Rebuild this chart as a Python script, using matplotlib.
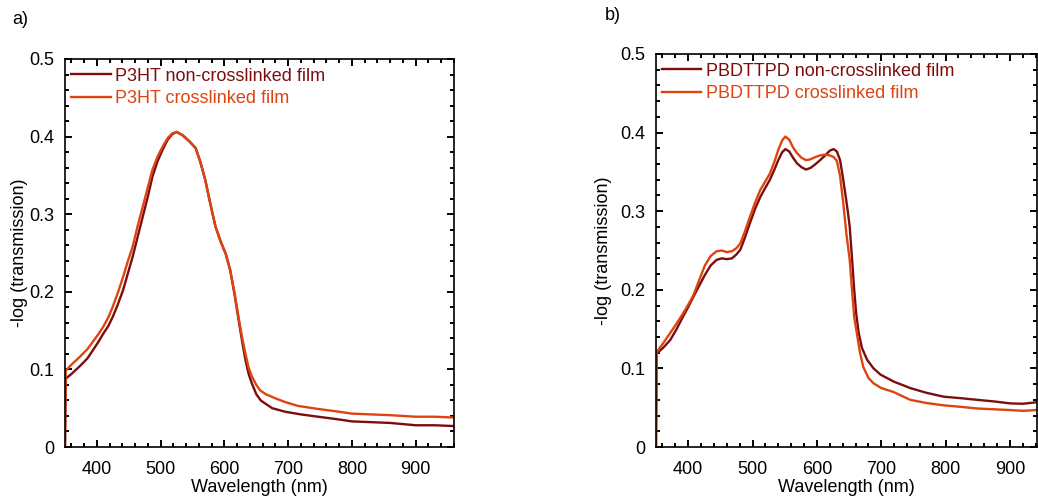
"""
Absorbance (-log transmission) of crosslinked vs non-crosslinked films:
a) P3HT, b) PBDTTPD.  Values read off the reference figure.
"""
import matplotlib
matplotlib.use("Agg")
import matplotlib.pyplot as plt
from matplotlib.ticker import MultipleLocator

plt.rcParams["font.family"] = ["Liberation Sans", "DejaVu Sans"]
plt.rcParams["font.size"] = 13

DARK = "#7d0d0d"
ORANGE = "#de4410"

# ---- a) P3HT ----
p3ht_nx_wl = [350, 351, 360, 373, 385, 394, 402, 410, 418, 425, 433, 441, 448, 456,
              464, 472, 480, 487, 495, 503, 511, 518, 525, 534, 545, 555, 562, 570,
              578, 586, 594, 602, 609, 616, 622, 628, 633, 638, 643, 650, 657, 664,
              675, 695, 720, 747, 775, 800, 830, 860, 900, 930, 960]
p3ht_nx_val = [0.0, 0.088, 0.094, 0.104, 0.114, 0.125, 0.135, 0.146, 0.156, 0.168,
               0.184, 0.202, 0.222, 0.245, 0.271, 0.297, 0.323, 0.348, 0.368, 0.383,
               0.396, 0.403, 0.406, 0.402, 0.394, 0.385, 0.368, 0.344, 0.313, 0.284,
               0.265, 0.249, 0.228, 0.196, 0.165, 0.135, 0.112, 0.094, 0.082, 0.068,
               0.060, 0.056, 0.050, 0.0455, 0.042, 0.039, 0.036, 0.033, 0.032, 0.031,
               0.028, 0.028, 0.027]

p3ht_x_wl = [350, 351, 360, 373, 385, 394, 402, 410, 418, 425, 433, 441, 448, 456,
             464, 472, 480, 487, 495, 503, 511, 518, 525, 534, 545, 555, 562, 570,
             578, 586, 594, 602, 609, 616, 622, 628, 633, 638, 643, 650, 656, 665,
             679, 695, 715, 747, 775, 800, 830, 860, 900, 930, 960]
p3ht_x_val = [0.0, 0.098, 0.106, 0.116, 0.126, 0.136, 0.145, 0.155, 0.167, 0.181,
              0.199, 0.219, 0.238, 0.258, 0.285, 0.310, 0.335, 0.357, 0.374, 0.387,
              0.398, 0.404, 0.406, 0.402, 0.394, 0.385, 0.368, 0.344, 0.313, 0.284,
              0.265, 0.249, 0.228, 0.198, 0.168, 0.140, 0.120, 0.102, 0.091, 0.080,
              0.073, 0.068, 0.063, 0.058, 0.053, 0.049, 0.046, 0.043, 0.042, 0.041,
              0.039, 0.039, 0.038]

# ---- b) PBDTTPD ----
pbd_nx_wl = [350, 351, 354, 362, 372, 382, 392, 400, 408, 417, 426, 435, 444, 452,
             460, 468, 475, 481, 488, 496, 504, 512, 520, 527, 534, 540, 546, 551,
             557, 563, 569, 576, 583, 590, 598, 605, 613, 620, 626, 631, 636, 640,
             644, 648, 651, 655, 658, 661, 665, 670, 678, 688, 699, 720, 745, 770,
             797, 825, 849, 875, 900, 920, 942]
pbd_nx_val = [0.0, 0.118, 0.121, 0.127, 0.136, 0.150, 0.166, 0.178, 0.191, 0.205,
              0.219, 0.231, 0.238, 0.240, 0.239, 0.240, 0.245, 0.251, 0.266, 0.285,
              0.303, 0.318, 0.330, 0.340, 0.353, 0.365, 0.375, 0.379, 0.376, 0.368,
              0.361, 0.356, 0.353, 0.355, 0.360, 0.365, 0.371, 0.377, 0.379, 0.376,
              0.365, 0.345, 0.323, 0.300, 0.280, 0.235, 0.200, 0.170, 0.145, 0.126,
              0.111, 0.100, 0.092, 0.083, 0.075, 0.069, 0.064, 0.062, 0.060, 0.058,
              0.0555, 0.055, 0.057]

pbd_x_wl = [350, 351, 354, 362, 372, 382, 392, 400, 408, 417, 426, 435, 444, 452,
            460, 468, 475, 481, 488, 496, 504, 512, 520, 527, 534, 540, 546, 551,
            557, 563, 569, 576, 583, 590, 598, 605, 613, 620, 626, 631, 636, 641,
            646, 651, 655, 658, 662, 667, 672, 680, 688, 700, 719, 745, 770, 797,
            825, 849, 875, 900, 920, 942]
pbd_x_val = [0.0, 0.121, 0.124, 0.133, 0.145, 0.157, 0.170, 0.181, 0.193, 0.212,
             0.231, 0.243, 0.249, 0.250, 0.248, 0.249, 0.253, 0.259, 0.274, 0.293,
             0.311, 0.327, 0.338, 0.348, 0.363, 0.378, 0.390, 0.395, 0.391, 0.381,
             0.374, 0.368, 0.365, 0.366, 0.369, 0.371, 0.372, 0.371, 0.369, 0.364,
             0.345, 0.310, 0.270, 0.238, 0.195, 0.165, 0.145, 0.120, 0.102, 0.088,
             0.081, 0.075, 0.070, 0.060, 0.056, 0.053, 0.051, 0.049, 0.048, 0.047,
             0.046, 0.047]

W, H = 1038, 504
fig = plt.figure(figsize=(W / 100, H / 100), dpi=100)
ax_a = fig.add_axes([65 / W, 57 / H, 389 / W, 388 / H])
ax_b = fig.add_axes([656 / W, 57 / H, 381 / W, 393 / H])


def style(ax, xmax, lab_x):
    ax.set_xlim(350, xmax)
    ax.set_ylim(0, 0.5)
    ax.xaxis.set_major_locator(MultipleLocator(100))
    ax.xaxis.set_minor_locator(MultipleLocator(20))
    ax.yaxis.set_major_locator(MultipleLocator(0.1))
    ax.yaxis.set_minor_locator(MultipleLocator(0.02))
    ax.yaxis.set_major_formatter(plt.FuncFormatter(lambda v, p: f"{v:g}"))
    ax.tick_params(which="both", direction="in", top=True, right=True, width=1.4)
    ax.tick_params(which="major", length=5, pad=8, labelsize=13)
    ax.tick_params(axis="x", which="major", pad=10)
    ax.tick_params(which="minor", length=3)
    for s in ax.spines.values():
        s.set_linewidth(1.2)
    ax.set_xlabel("Wavelength (nm)", fontsize=13, labelpad=1)
    ax.set_ylabel("-log (transmission)", fontsize=13)
    ax.yaxis.set_label_coords(lab_x, 0.5)


ax_a.plot(p3ht_nx_wl, p3ht_nx_val, color=DARK, lw=1.7, label="P3HT non-crosslinked film")
ax_a.plot(p3ht_x_wl, p3ht_x_val, color=ORANGE, lw=1.7, label="P3HT crosslinked film")
style(ax_a, 960, -0.095)

ax_b.plot(pbd_nx_wl, pbd_nx_val, color=DARK, lw=1.7, label="PBDTTPD non-crosslinked film")
ax_b.plot(pbd_x_wl, pbd_x_val, color=ORANGE, lw=1.7, label="PBDTTPD crosslinked film")
style(ax_b, 942, -0.115)

for ax in (ax_a, ax_b):
    ax.legend(loc="upper left", bbox_to_anchor=(0.015, 0.978), frameon=False,
              borderpad=0, borderaxespad=0, handlelength=2.2, handletextpad=0.25,
              labelspacing=0.3, labelcolor="linecolor", fontsize=13)

fig.text(12 / W, 1 - 20 / H, "a)", fontsize=13, va="center")
fig.text(605 / W, 1 - 16 / H, "b)", fontsize=13, va="center")

fig.savefig("out.png", dpi=100)
